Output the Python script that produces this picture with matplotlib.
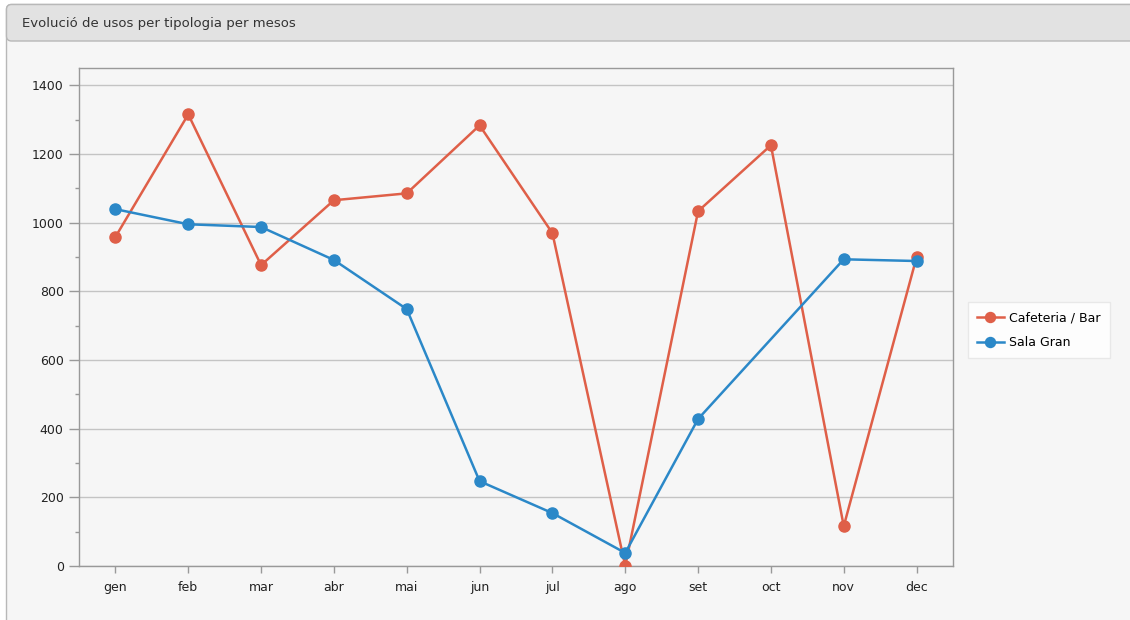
import numpy as np
import matplotlib
matplotlib.use("Agg")
import matplotlib.pyplot as plt
from matplotlib.patches import FancyBboxPatch
from matplotlib.ticker import MultipleLocator

title = "Evolució de usos per tipologia per mesos"
months = ["gen", "feb", "mar", "abr", "mai", "jun", "jul", "ago", "set", "oct", "nov", "dec"]
cafeteria = [958, 1315, 876, 1065, 1085, 1283, 969, 0, 1033, 1225, 116, 899]
sala_gran = [1039, 995, 987, 891, 748, 247, 154, 38, 428, None, 893, 888]
series_names = ["Cafeteria / Bar", "Sala Gran"]
colors = ["#df5f48", "#2b88c8"]

W, H = 1130, 620
fig = plt.figure(figsize=(W / 100, H / 100), dpi=100)
fig.patch.set_facecolor("white")

def fx(px):
    return px / W

def fy(py):
    return 1 - py / H

# background axes for the panel
bg = fig.add_axes([0, 0, 1, 1], zorder=-10)
bg.set_xlim(0, W)
bg.set_ylim(H, 0)
bg.axis("off")
bg.add_patch(FancyBboxPatch((6.5, 4.5), 1300, 700,
                            boxstyle="round,pad=0,rounding_size=5",
                            facecolor="#f6f6f6", edgecolor="#b8b8b8",
                            linewidth=1.0))
bg.add_patch(FancyBboxPatch((6.5, 4.5), 1300, 36.5,
                            boxstyle="round,pad=0,rounding_size=5",
                            facecolor="#e2e2e2", edgecolor="#b8b8b8",
                            linewidth=1.0))
bg.text(22, 23, title, fontsize=9.5, color="#333333",
        ha="left", va="center", family="DejaVu Sans")

ax = fig.add_axes([fx(79), fy(566), fx(953) - fx(79), fy(68) - fy(566)])
ax.set_facecolor("#f6f6f6")
x = np.arange(len(months))

for vals, name, c in zip([cafeteria, sala_gran], series_names, colors):
    arr = np.array([np.nan if v is None else v for v in vals], dtype=float)
    ok = ~np.isnan(arr)
    ax.plot(x[ok], arr[ok], color=c, linewidth=1.8, marker="o",
            markersize=8, label=name, clip_on=True, zorder=3)

ax.set_xlim(-0.5, len(months) - 0.5)
ax.set_ylim(0, 1450)
ax.set_xticks(x)
ax.set_xticklabels(months)
ax.yaxis.set_major_locator(MultipleLocator(200))
ax.yaxis.set_minor_locator(MultipleLocator(100))
ax.grid(axis="y", which="major", color="#c4c4c4", linewidth=1.0, zorder=0)
ax.set_axisbelow(True)

for s in ax.spines.values():
    s.set_color("#999999")
    s.set_linewidth(1.0)

ax.tick_params(axis="y", which="major", length=7, width=1, color="#999999",
               labelsize=9, labelcolor="#222222", pad=4)
ax.tick_params(axis="y", which="minor", length=3, width=1, color="#999999")
ax.tick_params(axis="x", which="major", length=5, width=1, color="#999999",
               labelsize=9, labelcolor="#222222", pad=6)

leg = ax.legend(loc="center left",
                bbox_to_anchor=((968 - 79) / (953 - 79), 0.474),
                frameon=True, fancybox=False, fontsize=9, handlelength=2.2,
                borderpad=0.7, labelspacing=0.95, handletextpad=0.4,
                borderaxespad=0, markerscale=0.9)
leg.get_frame().set_facecolor("white")
leg.get_frame().set_edgecolor("#e4e4e4")
leg.get_frame().set_linewidth(1.0)

fig.savefig("out.png", dpi=100, facecolor=fig.get_facecolor())
